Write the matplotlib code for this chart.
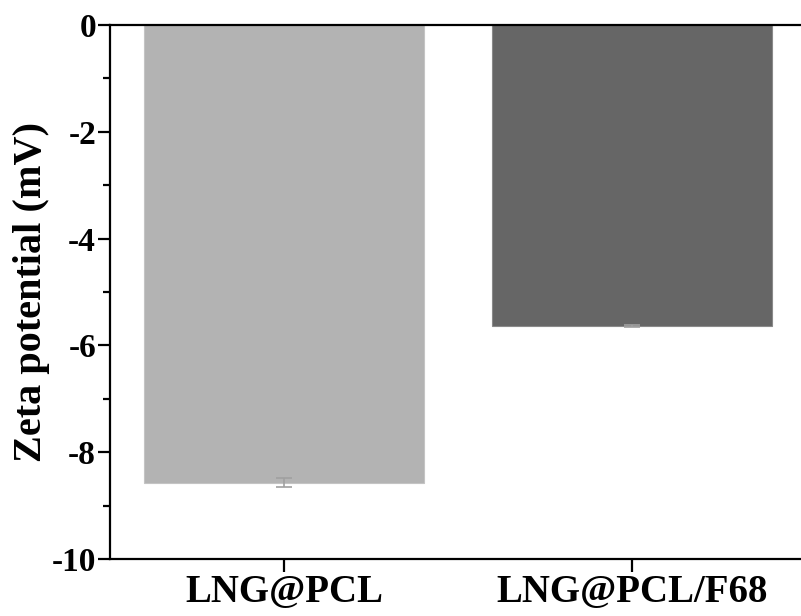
import numpy as np
import matplotlib.pyplot as plt
from matplotlib.ticker import MultipleLocator

plt.rcParams['font.family'] = ['Liberation Serif', 'DejaVu Serif']
plt.rcParams['font.weight'] = 'bold'

# 样品与 zeta 电位
samples = ['LNG@PCL', 'LNG@PCL/F68']
zeta = [-8.57, -5.63]
zeta_err = [0.09, 0.02]
colors = ['#b3b3b3', '#666666']

fig = plt.figure(figsize=(8.01, 6.16), dpi=100)
ax = fig.add_axes([0.1373, 0.0925, 0.869, 0.8669])

x = np.arange(len(samples))
ax.bar(x, zeta, width=0.805, color=colors, edgecolor=['#c4c4c4', '#8a8a8a'],
       linewidth=0.8, yerr=zeta_err, capsize=6,
       error_kw=dict(ecolor='#a0a0a0', elinewidth=1.2, capthick=1.2))

ax.set_xlim(-0.5, 1.5)
ax.set_ylim(-10, 0)
ax.set_xticks(x)
ax.set_xticklabels(samples, fontsize=28, fontweight='bold')
ax.yaxis.set_minor_locator(MultipleLocator(1))
ax.set_yticks(np.arange(-10, 1, 2))
ax.set_yticklabels([str(v) for v in range(-10, 1, 2)], fontsize=24, fontweight='bold')
ax.set_ylabel('Zeta potential (mV)', fontsize=29, fontweight='bold', labelpad=1)

for side in ['left', 'bottom', 'top']:
    ax.spines[side].set_linewidth(1.6)
ax.spines['right'].set_visible(False)
ax.tick_params(axis='both', which='major', direction='out', length=9, width=1.6)
ax.tick_params(axis='y', which='minor', direction='out', length=5, width=1.6)
ax.tick_params(axis='x', pad=2)
ax.tick_params(axis='y', pad=1)

fig.savefig('out.png', dpi=100)
